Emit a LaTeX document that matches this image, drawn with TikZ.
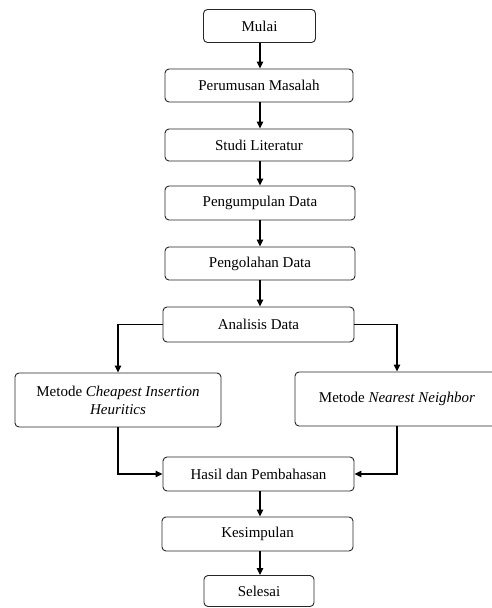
\documentclass[tikz,border=0pt]{standalone}
\usepackage{fontspec}
\setmainfont{Liberation Serif}
\usetikzlibrary{arrows.meta}
\begin{document}
\begin{tikzpicture}[x=1pt,y=-1pt,
  box/.style={draw=black!85, line width=0.9pt, rounded corners=4pt, align=center,
    font=\fontsize{15}{18}\selectfont, inner sep=2pt},
  flow/.style={line width=1.1pt, -{Triangle[length=7pt,width=6.5pt]}}]
\useasboundingbox (0,0) rectangle (492,608);
\node[box, minimum width=112pt, minimum height=33pt] (mulai) at (259.5,26) {Mulai};
\node[box, minimum width=188pt, minimum height=33pt] (rumus) at (259,85.5) {Perumusan Masalah};
\node[box, minimum width=188pt, minimum height=32pt] (studi) at (259,145) {Studi Literatur};
\node[box, minimum width=190pt, minimum height=34pt] (kumpul) at (260,203) {Pengumpulan Data};
\node[box, minimum width=190pt, minimum height=33pt] (olah) at (260,263.5) {Pengolahan Data};
\node[box, minimum width=191pt, minimum height=35pt] (anal) at (258.5,324.5) {Analisis Data};
\node[box, minimum width=206pt, minimum height=54pt] (ch) at (118,400) {Metode \textit{Cheapest Insertion}\\\textit{Heuritics}};
\node[box, minimum width=204pt, minimum height=54pt] (nn) at (397,399) {Metode \textit{Nearest Neighbor}};
\node[box, minimum width=191pt, minimum height=34pt] (hasil) at (258.5,474) {Hasil dan Pembahasan};
\node[box, minimum width=191pt, minimum height=34pt] (simp) at (257.5,534) {Kesimpulan};
\node[box, minimum width=110pt, minimum height=31pt] (selesai) at (259,591) {Selesai};
\draw[flow] (mulai.south -| 260,0) -- (rumus.north -| 260,0);
\draw[flow] (rumus.south -| 260,0) -- (studi.north -| 260,0);
\draw[flow] (studi.south -| 260,0) -- (kumpul.north -| 260,0);
\draw[flow] (kumpul.south -| 260,0) -- (olah.north -| 260,0);
\draw[flow] (olah.south -| 260,0) -- (anal.north -| 260,0);
\draw[flow] (anal.west) -| (ch.north);
\draw[flow] (anal.east) -| (nn.north);
\draw[flow] (ch.south) |- (hasil.west);
\draw[flow] (nn.south) |- (hasil.east);
\draw[flow] (hasil.south -| 260,0) -- (simp.north -| 260,0);
\draw[flow] (simp.south -| 260,0) -- (selesai.north -| 260,0);
\end{tikzpicture}
\end{document}
